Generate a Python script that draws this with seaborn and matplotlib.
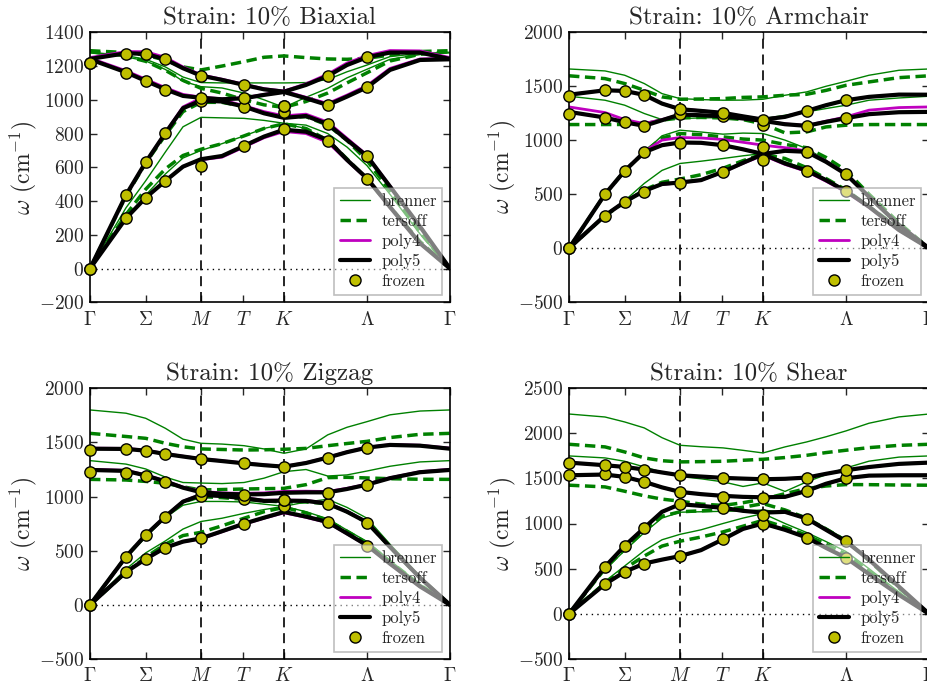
import numpy as np
import pandas as pd
import matplotlib
matplotlib.use("Agg")
import matplotlib.pyplot as plt
import seaborn as sns
from matplotlib.lines import Line2D

# ---------------- data ----------------
Q = [0, 0.36, 0.557, 0.753, 0.93, 1.11, 1.32, 1.54, 1.74, 1.94, 2.16, 2.377, 2.57, 2.77, 3.0, 3.3, 3.6]
FROZEN_Q = [0, 0.36, 0.557, 0.753, 1.11, 1.54, 1.94, 2.377, 2.77]
TICK_POS = [0, 0.557, 1.11, 1.535, 1.94, 2.77, 3.6]
TICK_LABELS = [r'$\Gamma$', r'$\Sigma$', r'$M$', r'$T$', r'$K$', r'$\Lambda$', r'$\Gamma$']
SYM_LINES = [1.11, 1.94]
TITLES = ["Strain: 10% Biaxial", "Strain: 10% Armchair", "Strain: 10% Zigzag", "Strain: 10% Shear"]
MODELS = ["brenner", "tersoff", "poly4", "poly5"]

BIAX_BRENNER = [
    [0, 290, 435, 560, 655, 700, 740, 786, 830, 858, 830, 755, 650, 530, 365, 160, 0],
    [0, 360, 520, 690, 840, 896, 893, 890, 878, 861, 850, 800, 720, 610, 440, 205, 0],
    [1278, 1255, 1230, 1180, 1110, 1078, 1070, 1040, 1000, 955, 1015, 1068, 1130, 1181, 1240, 1268, 1278],
    [1282, 1262, 1240, 1195, 1135, 1102, 1100, 1100, 1100, 1100, 1102, 1120, 1166, 1206, 1256, 1275, 1282]]
BIAX_TERSOFF = [
    [0, 320, 470, 590, 670, 707, 740, 786, 830, 858, 830, 760, 650, 530, 365, 160, 0],
    [0, 430, 625, 790, 930, 985, 985, 960, 925, 895, 900, 850, 760, 640, 460, 215, 0],
    [1286, 1258, 1228, 1175, 1115, 1068, 1040, 1000, 970, 955, 990, 1040, 1100, 1160, 1230, 1270, 1286],
    [1291, 1280, 1265, 1235, 1195, 1177, 1200, 1226, 1252, 1260, 1250, 1242, 1240, 1246, 1265, 1286, 1291]]
BIAX_POLY4 = [
    [0, 298, 420, 519, 604, 645, 660, 720, 775, 812, 800, 748, 640, 530, 362, 150, 0],
    [0, 436, 630, 805, 958, 1010, 1000, 965, 930, 905, 915, 868, 772, 672, 490, 250, 0],
    [1247, 1172, 1122, 1072, 1032, 1016, 1006, 1012, 1032, 1052, 1015, 978, 1028, 1084, 1186, 1242, 1247],
    [1250, 1286, 1285, 1252, 1195, 1148, 1122, 1092, 1066, 1052, 1095, 1152, 1218, 1262, 1292, 1290, 1250]]
BIAX_POLY5 = [
    [0, 298, 420, 519, 604, 648, 667, 727, 782, 823, 811, 762, 644, 535, 365, 150, 0],
    [0, 436, 630, 802, 950, 995, 990, 960, 920, 893, 904, 857, 762, 667, 486, 249, 0],
    [1240, 1163, 1112, 1062, 1023, 1012, 1003, 1009, 1029, 1046, 1009, 969, 1019, 1074, 1177, 1236, 1240],
    [1242, 1276, 1272, 1240, 1187, 1143, 1118, 1088, 1062, 1048, 1088, 1141, 1206, 1252, 1280, 1280, 1242]]
BIAX_FROZEN = [
    [0, 0, 1216, 1216], [298, 436, 1161, 1272], [420, 630, 1112, 1272], [519, 802, 1060, 1240],
    [610, 995, 1013, 1141], [727, 960, 1009, 1085], [829, 926, 963, 963], [756, 857, 967, 1141],
    [531, 665, 1074, 1252]]

ARM_BRENNER = [
    [0, 310, 440, 600, 720, 784, 805, 830, 855, 876, 800, 730, 640, 540, 390, 180, 0],
    [0, 500, 716, 890, 1040, 1092, 1075, 1055, 1065, 1061, 1000, 922, 815, 691, 491, 230, 0],
    [1406, 1369, 1323, 1246, 1190, 1200, 1205, 1209, 1200, 1199, 1230, 1261, 1292, 1323, 1369, 1390, 1406],
    [1658, 1640, 1600, 1523, 1430, 1384, 1375, 1369, 1370, 1378, 1415, 1446, 1498, 1544, 1600, 1646, 1658]]
ARM_TERSOFF = [
    [0, 300, 425, 540, 610, 640, 680, 740, 810, 870, 830, 745, 645, 540, 385, 185, 0],
    [0, 500, 716, 890, 1020, 1061, 1050, 1030, 1010, 1000, 960, 930, 840, 720, 500, 235, 0],
    [1144, 1144, 1145, 1150, 1185, 1205, 1210, 1205, 1190, 1150, 1067, 1076, 1122, 1138, 1144, 1144, 1144],
    [1595, 1569, 1523, 1461, 1400, 1378, 1380, 1384, 1395, 1400, 1415, 1424, 1460, 1507, 1538, 1578, 1595]]
ARM_POLY4 = [
    [0, 303, 430, 532, 590, 605, 628, 705, 785, 860, 775, 710, 620, 520, 378, 165, 0],
    [0, 500, 716, 895, 1000, 1024, 1020, 1006, 980, 953, 930, 900, 805, 690, 478, 215, 0],
    [1307, 1255, 1190, 1153, 1190, 1237, 1230, 1221, 1200, 1180, 1150, 1135, 1175, 1215, 1277, 1301, 1307],
    [1420, 1461, 1455, 1418, 1338, 1290, 1272, 1252, 1220, 1192, 1217, 1270, 1323, 1369, 1400, 1421, 1420]]
ARM_POLY5 = [
    [0, 303, 430, 530, 594, 608, 630, 707, 790, 870, 784, 719, 630, 528, 384, 168, 0],
    [0, 500, 716, 888, 953, 978, 975, 953, 915, 872, 901, 892, 799, 685, 476, 214, 0],
    [1261, 1209, 1165, 1132, 1184, 1237, 1230, 1221, 1200, 1178, 1147, 1132, 1169, 1203, 1240, 1258, 1261],
    [1420, 1461, 1455, 1418, 1338, 1286, 1270, 1252, 1220, 1190, 1215, 1270, 1323, 1369, 1400, 1421, 1420]]
ARM_FROZEN = [
    [0, 0, 1246, 1406], [300, 500, 1209, 1461], [424, 716, 1163, 1455], [522, 888, 1132, 1415],
    [608, 975, 1240, 1286], [707, 953, 1221, 1252], [815, 938, 1138, 1184], [719, 888, 1132, 1270],
    [528, 685, 1203, 1369]]

ZIG_BRENNER = [
    [0, 330, 480, 590, 700, 770, 800, 845, 880, 910, 860, 795, 690, 585, 410, 190, 0],
    [0, 430, 625, 805, 920, 955, 955, 950, 930, 910, 950, 975, 900, 800, 560, 265, 0],
    [1332, 1300, 1255, 1180, 1130, 1125, 1120, 1130, 1170, 1230, 1250, 1190, 1200, 1236, 1280, 1320, 1332],
    [1800, 1770, 1723, 1631, 1530, 1492, 1485, 1470, 1440, 1400, 1440, 1570, 1640, 1692, 1755, 1790, 1800]]
ZIG_TERSOFF = [
    [0, 300, 440, 560, 640, 670, 730, 800, 860, 900, 850, 780, 680, 570, 400, 185, 0],
    [0, 445, 645, 815, 950, 1000, 990, 975, 960, 950, 950, 935, 860, 762, 535, 250, 0],
    [1159, 1153, 1140, 1123, 1090, 1061, 1065, 1070, 1073, 1076, 1110, 1175, 1178, 1172, 1165, 1160, 1159],
    [1584, 1555, 1538, 1492, 1460, 1440, 1435, 1430, 1432, 1437, 1445, 1470, 1490, 1510, 1545, 1575, 1584]]
ZIG_POLY4 = [
    [0, 303, 424, 528, 582, 610, 675, 745, 800, 850, 808, 760, 655, 547, 378, 168, 0],
    [0, 445, 645, 817, 957, 1020, 1010, 990, 966, 968, 965, 940, 864, 765, 537, 251, 0],
    [1252, 1242, 1200, 1145, 1088, 1048, 1034, 1030, 1034, 1048, 1050, 1047, 1076, 1114, 1174, 1230, 1252],
    [1447, 1445, 1428, 1396, 1373, 1350, 1331, 1310, 1293, 1279, 1313, 1363, 1413, 1455, 1480, 1474, 1447]]
ZIG_POLY5 = [
    [0, 303, 424, 528, 584, 614, 680, 750, 805, 858, 815, 765, 660, 550, 380, 170, 0],
    [0, 445, 645, 815, 953, 1015, 1005, 985, 960, 962, 960, 935, 860, 762, 535, 250, 0],
    [1246, 1237, 1195, 1140, 1082, 1040, 1025, 1020, 1022, 1035, 1039, 1039, 1070, 1110, 1170, 1225, 1246],
    [1442, 1440, 1424, 1393, 1370, 1347, 1328, 1307, 1290, 1276, 1310, 1360, 1410, 1452, 1477, 1470, 1442]]
ZIG_FROZEN = [
    [0, 0, 1224, 1430], [303, 445, 1221, 1437], [424, 645, 1187, 1421], [525, 811, 1138, 1393],
    [614, 1005, 1052, 1347], [744, 975, 1015, 1310], [916, 969, 969, 1276], [762, 929, 1033, 1356],
    [547, 759, 1104, 1449]]

SHEAR_BRENNER = [
    [0, 360, 530, 700, 820, 880, 930, 1000, 1060, 1110, 1000, 900, 800, 690, 500, 240, 0],
    [0, 490, 700, 900, 1060, 1125, 1130, 1135, 1140, 1150, 1120, 1060, 950, 820, 600, 290, 0],
    [1748, 1726, 1689, 1626, 1570, 1520, 1495, 1461, 1410, 1450, 1355, 1461, 1540, 1615, 1690, 1735, 1748],
    [2212, 2179, 2124, 2058, 1950, 1866, 1850, 1837, 1810, 1781, 1848, 1903, 1960, 2025, 2110, 2180, 2212]]
SHEAR_TERSOFF = [
    [0, 340, 500, 640, 750, 804, 850, 907, 970, 1036, 960, 870, 770, 660, 470, 225, 0],
    [0, 500, 720, 920, 1080, 1130, 1140, 1150, 1180, 1220, 1150, 1060, 940, 810, 590, 285, 0],
    [1424, 1405, 1357, 1306, 1270, 1247, 1215, 1200, 1230, 1270, 1330, 1387, 1415, 1431, 1430, 1426, 1424],
    [1877, 1848, 1792, 1726, 1695, 1682, 1685, 1689, 1700, 1711, 1730, 1755, 1785, 1811, 1840, 1865, 1877]]
SHEAR_POLY4 = [
    [0, 329, 465, 557, 600, 639, 705, 825, 940, 1000, 930, 845, 730, 620, 440, 210, 0],
    [0, 521, 753, 952, 1129, 1214, 1195, 1173, 1140, 1120, 1129, 1055, 930, 801, 600, 300, 0],
    [1534, 1542, 1516, 1461, 1400, 1350, 1325, 1306, 1295, 1290, 1295, 1361, 1440, 1501, 1530, 1534, 1534],
    [1674, 1645, 1626, 1597, 1565, 1534, 1520, 1505, 1497, 1490, 1495, 1508, 1550, 1590, 1625, 1660, 1674]]
SHEAR_POLY5 = [
    [0, 329, 465, 557, 600, 639, 705, 825, 940, 1000, 930, 845, 730, 620, 440, 210, 0],
    [0, 521, 753, 952, 1129, 1214, 1195, 1173, 1140, 1120, 1129, 1055, 930, 801, 600, 300, 0],
    [1534, 1542, 1516, 1461, 1400, 1350, 1325, 1306, 1295, 1290, 1295, 1361, 1440, 1501, 1530, 1534, 1534],
    [1674, 1645, 1626, 1597, 1565, 1534, 1520, 1505, 1497, 1490, 1495, 1508, 1550, 1590, 1625, 1660, 1674]]
SHEAR_FROZEN = [
    [0, 0, 1538, 1674], [329, 517, 1545, 1652], [465, 748, 1512, 1626], [557, 952, 1464, 1590],
    [639, 1214, 1346, 1534], [823, 1177, 1298, 1508], [992, 1099, 1287, 1497], [845, 1055, 1361, 1508],
    [613, 801, 1501, 1590]]

YLIMS = [(-200, 1400), (-500, 2000), (-500, 2000), (-500, 2500)]
YSTEPS = [200, 500, 500, 500]

PANEL_DATA = [
    (BIAX_BRENNER, BIAX_TERSOFF, BIAX_POLY4, BIAX_POLY5, BIAX_FROZEN),
    (ARM_BRENNER, ARM_TERSOFF, ARM_POLY4, ARM_POLY5, ARM_FROZEN),
    (ZIG_BRENNER, ZIG_TERSOFF, ZIG_POLY4, ZIG_POLY5, ZIG_FROZEN),
    (SHEAR_BRENNER, SHEAR_TERSOFF, SHEAR_POLY4, SHEAR_POLY5, SHEAR_FROZEN),
]

# ---------------- style ----------------
sns.set_style("ticks")
plt.rcParams.update({
    "font.family": ["cmr10", "DejaVu Serif"],
    "mathtext.fontset": "cm",
    "axes.formatter.use_mathtext": True,
    "axes.unicode_minus": True,
    "axes.edgecolor": "black",
    "axes.linewidth": 1.0,
})

STYLE = {
    "brenner": dict(color="g", linewidth=1.0, linestyle="-", zorder=2),
    "tersoff": dict(color="g", linewidth=2.5, linestyle=(0, (3.0, 1.6)), zorder=2.1),
    "poly4": dict(color="m", linewidth=2.0, linestyle="-", zorder=2.5),
    "poly5": dict(color="k", linewidth=3.0, linestyle="-", zorder=3),
}

W, H = 928, 685
fig = plt.figure(figsize=(W / 100, H / 100), dpi=100)
boxes = [(90, 32.3, 302.3), (569, 32.0, 302.3), (90, 388.3, 659), (569, 388.0, 659)]

for i, (left, top, bottom) in enumerate(boxes):
    ax = fig.add_axes([left / W, (H - bottom) / H, 360 / W, (bottom - top) / H])
    brenner, tersoff, poly4, poly5, frozen = PANEL_DATA[i]

    for xv in SYM_LINES:
        ax.axvline(xv, color="k", linewidth=1.2, linestyle=(0, (6, 3.5)), zorder=1)
    ax.axhline(0, color="k", linewidth=1.0, linestyle=(0, (1, 3)), zorder=1)

    for name, bands in zip(MODELS, (brenner, tersoff, poly4, poly5)):
        df = pd.DataFrame([(q, w, b) for b, band in enumerate(bands) for q, w in zip(Q, band)],
                          columns=["q", "omega", "band"])
        sns.lineplot(data=df, x="q", y="omega", units="band", estimator=None, sort=False,
                     legend=False, ax=ax, **STYLE[name])

    fr = np.array(frozen, dtype=float)
    fx = np.repeat(FROZEN_Q, fr.shape[1])
    sns.scatterplot(x=fx, y=fr.ravel(), ax=ax, color="y", edgecolor="k", linewidth=1.0,
                    s=66, zorder=5, clip_on=False, legend=False)

    ax.set_xlim(0, 3.6)
    lo, hi = YLIMS[i]
    ax.set_ylim(lo, hi)
    ax.set_yticks(np.arange(lo, hi + 1, YSTEPS[i]))
    ax.set_xticks(TICK_POS)
    ax.set_xticklabels(TICK_LABELS)
    ax.tick_params(direction="in", top=True, right=True, length=5, width=1, labelsize=14, pad=4)
    ax.tick_params(axis="x", pad=6)
    ax.set_xlabel("")
    ax.set_ylabel(r"$\omega$ (cm$^{-1}$)", fontsize=17, labelpad=0)
    ax.set_title(TITLES[i], fontsize=18, pad=6)
    for sp in ax.spines.values():
        sp.set_linewidth(1.2)

    handles = [
        Line2D([], [], color="g", linewidth=1.0, label="brenner"),
        Line2D([], [], color="g", linewidth=2.5, linestyle=(0, (3.0, 1.6)), label="tersoff"),
        Line2D([], [], color="m", linewidth=2.0, label="poly4"),
        Line2D([], [], color="k", linewidth=3.0, label="poly5"),
        Line2D([], [], color="none", marker="o", markersize=8, markerfacecolor="y",
               markeredgecolor="k", markeredgewidth=1.0, label="frozen"),
    ]
    leg = ax.legend(handles=handles, loc="lower right", fontsize=12, framealpha=0.5,
                    fancybox=False, edgecolor="0.5", numpoints=1, handlelength=1.8,
                    handletextpad=0.65, borderpad=0.35, labelspacing=0.28,
                    borderaxespad=0.45)
    leg.get_frame().set_linewidth(1.2)
    leg.set_zorder(10)

fig.savefig("out.png", dpi=100)
